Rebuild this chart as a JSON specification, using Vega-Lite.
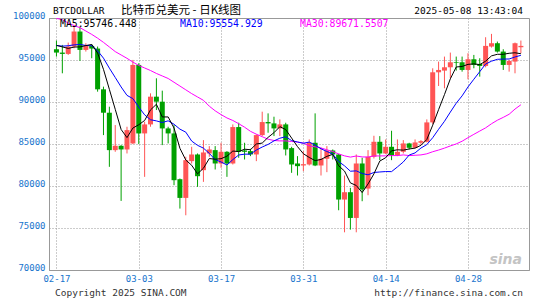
{
  "$schema": "https://vega.github.io/schema/vega-lite/v6.json",
  "width": 480,
  "height": 252,
  "autosize": "none",
  "padding": {"left": 49, "top": 18, "right": 16, "bottom": 30},
  "background": "white",
  "config": {"view": {"stroke": "#999999", "strokeWidth": 1}},
  "layer": [
    {
      "data": {"values": [{"t": "sina"}]},
      "mark": {"type": "text", "align": "right", "baseline": "alphabetic", "font": "DejaVu Sans", "fontSize": 14, "fontWeight": "bold", "fontStyle": "italic", "color": "#c4c4c4", "dx": -2, "dy": -6},
      "encoding": {
        "x": {"datum": 1746621720000, "type": "temporal"},
        "y": {"datum": 70000, "type": "quantitative"},
        "text": {"field": "t", "type": "nominal"}
      }
    },
    {
      "data": {"values": [
        {"d": "2025-02-17", "o": 96281, "h": 97315, "l": 95406, "c": 95883, "ma5": 96740, "ma10": 96730, "ma30": 99950},
        {"d": "2025-02-18", "o": 95883, "h": 96798, "l": 93417, "c": 95724, "ma5": 96560, "ma10": 96650, "ma30": 99800},
        {"d": "2025-02-19", "o": 95724, "h": 97076, "l": 95605, "c": 96599, "ma5": 96380, "ma10": 96700, "ma30": 99400},
        {"d": "2025-02-20", "o": 96599, "h": 98985, "l": 96400, "c": 98389, "ma5": 96540, "ma10": 96800, "ma30": 99100},
        {"d": "2025-02-21", "o": 98389, "h": 98985, "l": 94889, "c": 96201, "ma5": 96560, "ma10": 96850, "ma30": 98850},
        {"d": "2025-02-22", "o": 96201, "h": 96997, "l": 96003, "c": 96679, "ma5": 96720, "ma10": 96730, "ma30": 98450},
        {"d": "2025-02-23", "o": 96679, "h": 96877, "l": 95207, "c": 96360, "ma5": 96850, "ma10": 96700, "ma30": 98050},
        {"d": "2025-02-24", "o": 96360, "h": 96599, "l": 91230, "c": 91508, "ma5": 95830, "ma10": 96100, "ma30": 97600},
        {"d": "2025-02-25", "o": 91508, "h": 91827, "l": 86060, "c": 88724, "ma5": 93890, "ma10": 95220, "ma30": 97100},
        {"d": "2025-02-26", "o": 88724, "h": 89440, "l": 82281, "c": 84270, "ma5": 91510, "ma10": 94030, "ma30": 96550},
        {"d": "2025-02-27", "o": 84270, "h": 87253, "l": 84072, "c": 84787, "ma5": 89130, "ma10": 92920, "ma30": 96000},
        {"d": "2025-02-28", "o": 84787, "h": 84867, "l": 78225, "c": 84350, "ma5": 86730, "ma10": 91790, "ma30": 95600},
        {"d": "2025-03-01", "o": 84350, "h": 87054, "l": 83873, "c": 86656, "ma5": 85760, "ma10": 90790, "ma30": 95200},
        {"d": "2025-03-02", "o": 85066, "h": 95008, "l": 84986, "c": 94412, "ma5": 86900, "ma10": 90400, "ma30": 94750},
        {"d": "2025-03-03", "o": 94412, "h": 94610, "l": 84986, "c": 86259, "ma5": 87290, "ma10": 89400, "ma30": 94350},
        {"d": "2025-03-04", "o": 86259, "h": 87651, "l": 81089, "c": 87332, "ma5": 87800, "ma10": 88470, "ma30": 94050},
        {"d": "2025-03-05", "o": 87332, "h": 91031, "l": 87054, "c": 90634, "ma5": 89060, "ma10": 87890, "ma30": 93750},
        {"d": "2025-03-06", "o": 90634, "h": 92821, "l": 89043, "c": 90037, "ma5": 89730, "ma10": 87750, "ma30": 93400},
        {"d": "2025-03-07", "o": 90037, "h": 91350, "l": 84867, "c": 86855, "ma5": 88220, "ma10": 87560, "ma30": 93100},
        {"d": "2025-03-08", "o": 86856, "h": 87054, "l": 85066, "c": 86259, "ma5": 88220, "ma10": 87760, "ma30": 92800},
        {"d": "2025-03-09", "o": 86259, "h": 87253, "l": 80095, "c": 80691, "ma5": 86900, "ma10": 87350, "ma30": 92350},
        {"d": "2025-03-10", "o": 80810, "h": 80890, "l": 77311, "c": 78583, "ma5": 84490, "ma10": 86770, "ma30": 91900},
        {"d": "2025-03-11", "o": 78583, "h": 83475, "l": 76515, "c": 83077, "ma5": 83090, "ma10": 86410, "ma30": 91450},
        {"d": "2025-03-12", "o": 82958, "h": 84668, "l": 82679, "c": 83753, "ma5": 82470, "ma10": 85350, "ma30": 91000},
        {"d": "2025-03-13", "o": 83753, "h": 83873, "l": 79896, "c": 81168, "ma5": 81450, "ma10": 84840, "ma30": 90600},
        {"d": "2025-03-14", "o": 81884, "h": 85463, "l": 80492, "c": 83992, "ma5": 82110, "ma10": 84510, "ma30": 90200},
        {"d": "2025-03-15", "o": 83873, "h": 84748, "l": 83475, "c": 84350, "ma5": 83270, "ma10": 83880, "ma30": 89500},
        {"d": "2025-03-16", "o": 84272, "h": 84749, "l": 81965, "c": 82681, "ma5": 83190, "ma10": 83140, "ma30": 88950},
        {"d": "2025-03-17", "o": 82681, "h": 85147, "l": 82164, "c": 84073, "ma5": 83250, "ma10": 82860, "ma30": 88500},
        {"d": "2025-03-18", "o": 84073, "h": 84153, "l": 81090, "c": 82681, "ma5": 83550, "ma10": 82500, "ma30": 88100},
        {"d": "2025-03-19", "o": 82681, "h": 87334, "l": 82562, "c": 87016, "ma5": 84160, "ma10": 83140, "ma30": 87800},
        {"d": "2025-03-20", "o": 87016, "h": 87533, "l": 83357, "c": 84073, "ma5": 84100, "ma10": 83690, "ma30": 87420},
        {"d": "2025-03-21", "o": 84232, "h": 85147, "l": 83158, "c": 84073, "ma5": 84380, "ma10": 83790, "ma30": 87000},
        {"d": "2025-03-22", "o": 84153, "h": 84431, "l": 83556, "c": 83755, "ma5": 84320, "ma10": 83790, "ma30": 86510},
        {"d": "2025-03-23", "o": 83755, "h": 86141, "l": 82960, "c": 86061, "ma5": 85000, "ma10": 84280, "ma30": 86170},
        {"d": "2025-03-24", "o": 86061, "h": 88845, "l": 85942, "c": 87613, "ma5": 85110, "ma10": 84640, "ma30": 85870},
        {"d": "2025-03-25", "o": 87613, "h": 88647, "l": 86340, "c": 87454, "ma5": 85790, "ma10": 84950, "ma30": 85570},
        {"d": "2025-03-26", "o": 87454, "h": 88249, "l": 85942, "c": 86857, "ma5": 86350, "ma10": 85370, "ma30": 85420},
        {"d": "2025-03-27", "o": 86857, "h": 87931, "l": 85942, "c": 87334, "ma5": 87060, "ma10": 85690, "ma30": 85370},
        {"d": "2025-03-28", "o": 87334, "h": 87533, "l": 83636, "c": 84351, "ma5": 86720, "ma10": 85860, "ma30": 85370},
        {"d": "2025-03-29", "o": 84510, "h": 84670, "l": 81568, "c": 82562, "ma5": 85710, "ma10": 85410, "ma30": 85300},
        {"d": "2025-03-30", "o": 82681, "h": 83556, "l": 81249, "c": 82363, "ma5": 84690, "ma10": 85240, "ma30": 85230},
        {"d": "2025-03-31", "o": 82442, "h": 84153, "l": 81767, "c": 82601, "ma5": 83840, "ma10": 85090, "ma30": 85100},
        {"d": "2025-04-01", "o": 82562, "h": 85545, "l": 82442, "c": 85147, "ma5": 83400, "ma10": 85230, "ma30": 84790},
        {"d": "2025-04-02", "o": 85147, "h": 88647, "l": 82363, "c": 82442, "ma5": 83020, "ma10": 84870, "ma30": 84660},
        {"d": "2025-04-03", "o": 82442, "h": 84550, "l": 81249, "c": 83238, "ma5": 83160, "ma10": 84430, "ma30": 84530},
        {"d": "2025-04-04", "o": 83238, "h": 84749, "l": 81647, "c": 84232, "ma5": 83530, "ma10": 84110, "ma30": 84310},
        {"d": "2025-04-05", "o": 84232, "h": 84351, "l": 83158, "c": 83755, "ma5": 83760, "ma10": 83800, "ma30": 84100},
        {"d": "2025-04-06", "o": 83755, "h": 83834, "l": 77113, "c": 78386, "ma5": 82410, "ma10": 82910, "ma30": 83820},
        {"d": "2025-04-07", "o": 78386, "h": 81249, "l": 74488, "c": 79261, "ma5": 81780, "ma10": 82400, "ma30": 83590},
        {"d": "2025-04-08", "o": 79261, "h": 79778, "l": 74806, "c": 76197, "ma5": 80370, "ma10": 81760, "ma30": 83440},
        {"d": "2025-04-09", "o": 76197, "h": 83755, "l": 74488, "c": 82681, "ma5": 80060, "ma10": 81800, "ma30": 83570},
        {"d": "2025-04-10", "o": 82681, "h": 83357, "l": 78188, "c": 79579, "ma5": 79220, "ma10": 81490, "ma30": 83460},
        {"d": "2025-04-11", "o": 79697, "h": 84270, "l": 78901, "c": 83475, "ma5": 80240, "ma10": 81330, "ma30": 83450},
        {"d": "2025-04-12", "o": 83475, "h": 85980, "l": 83276, "c": 85264, "ma5": 81440, "ma10": 81610, "ma30": 83580},
        {"d": "2025-04-13", "o": 85264, "h": 85940, "l": 83077, "c": 83873, "ma5": 82970, "ma10": 81670, "ma30": 83580},
        {"d": "2025-04-14", "o": 83873, "h": 85543, "l": 83793, "c": 84668, "ma5": 83370, "ma10": 81720, "ma30": 83590},
        {"d": "2025-04-15", "o": 84668, "h": 86577, "l": 83077, "c": 83674, "ma5": 84190, "ma10": 81710, "ma30": 83620},
        {"d": "2025-04-16", "o": 83674, "h": 85543, "l": 83555, "c": 84072, "ma5": 84310, "ma10": 82270, "ma30": 83620},
        {"d": "2025-04-17", "o": 84072, "h": 85463, "l": 83873, "c": 85066, "ma5": 84270, "ma10": 82860, "ma30": 83700},
        {"d": "2025-04-18", "o": 85066, "h": 85145, "l": 84350, "c": 84549, "ma5": 84410, "ma10": 83690, "ma30": 83620},
        {"d": "2025-04-19", "o": 84549, "h": 85543, "l": 84469, "c": 85185, "ma5": 84510, "ma10": 83940, "ma30": 83660},
        {"d": "2025-04-20", "o": 85145, "h": 85463, "l": 84867, "c": 85344, "ma5": 84840, "ma10": 84520, "ma30": 83700},
        {"d": "2025-04-21", "o": 85264, "h": 87929, "l": 85185, "c": 87571, "ma5": 85540, "ma10": 84930, "ma30": 83830},
        {"d": "2025-04-22", "o": 87571, "h": 94014, "l": 87372, "c": 93537, "ma5": 87240, "ma10": 85750, "ma30": 84080},
        {"d": "2025-04-23", "o": 93537, "h": 94809, "l": 91906, "c": 93815, "ma5": 89090, "ma10": 86750, "ma30": 84280},
        {"d": "2025-04-24", "o": 93736, "h": 95406, "l": 91628, "c": 94133, "ma5": 90880, "ma10": 87700, "ma30": 84510},
        {"d": "2025-04-25", "o": 94133, "h": 95883, "l": 92821, "c": 94730, "ma5": 92760, "ma10": 88800, "ma30": 84770},
        {"d": "2025-04-26", "o": 94730, "h": 95406, "l": 93736, "c": 94650, "ma5": 94170, "ma10": 89860, "ma30": 85010},
        {"d": "2025-04-27", "o": 94730, "h": 95406, "l": 93616, "c": 93815, "ma5": 94230, "ma10": 90730, "ma30": 85330},
        {"d": "2025-04-28", "o": 93815, "h": 95804, "l": 92702, "c": 95088, "ma5": 94480, "ma10": 91790, "ma30": 85750},
        {"d": "2025-04-29", "o": 95088, "h": 95605, "l": 94014, "c": 94412, "ma5": 94540, "ma10": 92710, "ma30": 86150},
        {"d": "2025-04-30", "o": 94531, "h": 95207, "l": 93020, "c": 94293, "ma5": 94450, "ma10": 93610, "ma30": 86540},
        {"d": "2025-05-01", "o": 94293, "h": 97712, "l": 94133, "c": 96679, "ma5": 94860, "ma10": 94520, "ma30": 86920},
        {"d": "2025-05-02", "o": 96599, "h": 98110, "l": 96480, "c": 96997, "ma5": 95490, "ma10": 94860, "ma30": 87410},
        {"d": "2025-05-03", "o": 96997, "h": 97196, "l": 95883, "c": 96003, "ma5": 95680, "ma10": 95080, "ma30": 87830},
        {"d": "2025-05-04", "o": 96003, "h": 96281, "l": 93815, "c": 94412, "ma5": 95680, "ma10": 95110, "ma30": 88170},
        {"d": "2025-05-05", "o": 94412, "h": 95008, "l": 93616, "c": 94889, "ma5": 95800, "ma10": 95120, "ma30": 88540},
        {"d": "2025-05-06", "o": 94809, "h": 97076, "l": 93417, "c": 96997, "ma5": 95860, "ma10": 95360, "ma30": 89160},
        {"d": "2025-05-07", "o": 96520, "h": 97315, "l": 95804, "c": 96679, "ma5": 95746, "ma10": 95555, "ma30": 89672}
      ]},
      "encoding": {
        "x": {
          "field": "d",
          "type": "temporal",
          "title": null,
          "scale": {"type": "utc", "domain": [1739714400000, 1746621720000], "nice": false},
          "axis": {
            "values": [
              {"year": 2025, "month": 2, "date": 17, "utc": true},
              {"year": 2025, "month": 3, "date": 3, "utc": true},
              {"year": 2025, "month": 3, "date": 17, "utc": true},
              {"year": 2025, "month": 3, "date": 31, "utc": true},
              {"year": 2025, "month": 4, "date": 14, "utc": true},
              {"year": 2025, "month": 4, "date": 28, "utc": true}
            ],
            "format": "%m-%d",
            "labelColor": "#1874cd",
            "labelFont": "DejaVu Sans Mono",
            "labelFontSize": 9,
            "ticks": false,
            "labelPadding": 4,
            "labelFlush": false,
            "labelOverlap": false,
            "grid": true,
            "gridColor": "#999999",
            "gridDash": [1, 2],
            "domainColor": "#999999"
          }
        }
      },
      "layer": [
        {
          "mark": {"type": "rule", "strokeWidth": 1},
          "encoding": {
            "y": {
              "field": "l",
              "type": "quantitative",
              "title": null,
              "scale": {"domain": [70000, 100000], "nice": false, "zero": false},
              "axis": {
                "values": [70000, 75000, 80000, 85000, 90000, 95000, 100000],
                "format": "d",
                "labelColor": "#1874cd",
                "labelFont": "DejaVu Sans Mono",
                "labelFontSize": 9,
                "labelBaseline": "alphabetic",
                "ticks": false,
                "labelPadding": 4,
                "labelFlush": false,
                "labelOverlap": false,
                "grid": true,
                "gridColor": "#999999",
                "gridDash": [1, 2],
                "domainColor": "#999999"
              }
            },
            "y2": {"field": "h"},
            "color": {"condition": {"test": "datum.c >= datum.o", "value": "#ff5555"}, "value": "#00a000"}
          }
        },
        {
          "mark": {"type": "bar", "size": 5},
          "encoding": {
            "y": {"field": "o", "type": "quantitative", "title": null},
            "y2": {"field": "c"},
            "color": {"condition": {"test": "datum.c >= datum.o", "value": "#ff5555"}, "value": "#00a000"}
          }
        },
        {
          "mark": {"type": "line", "strokeWidth": 1, "color": "#ff00ff", "clip": true},
          "encoding": {"y": {"field": "ma30", "type": "quantitative", "title": null}}
        },
        {
          "mark": {"type": "line", "strokeWidth": 1, "color": "#0000ff", "clip": true},
          "encoding": {"y": {"field": "ma10", "type": "quantitative", "title": null}}
        },
        {
          "mark": {"type": "line", "strokeWidth": 1, "color": "#000000", "clip": true},
          "encoding": {"y": {"field": "ma5", "type": "quantitative", "title": null}}
        }
      ]
    },
    {
      "data": {"values": [{"t": "BTCDOLLAR"}]},
      "mark": {"type": "text", "align": "left", "baseline": "middle", "font": "DejaVu Sans Mono", "fontSize": 9.5, "color": "#000000", "dx": -1, "dy": -7},
      "encoding": {
        "x": {"datum": 1739714400000, "type": "temporal"},
        "y": {"datum": 100000, "type": "quantitative"},
        "text": {"field": "t", "type": "nominal"}
      }
    },
    {
      "data": {"values": [{"t": "比特币兑美元 - 日K线图"}]},
      "mark": {"type": "text", "align": "left", "baseline": "middle", "font": "Noto Sans CJK SC", "fontSize": 11.5, "color": "#000000", "dx": 67, "dy": -7},
      "encoding": {
        "x": {"datum": 1739714400000, "type": "temporal"},
        "y": {"datum": 100000, "type": "quantitative"},
        "text": {"field": "t", "type": "nominal"}
      }
    },
    {
      "data": {"values": [{"t": "2025-05-08 13:43:04"}]},
      "mark": {"type": "text", "align": "right", "baseline": "middle", "font": "DejaVu Sans Mono", "fontSize": 9.5, "color": "#000000", "dx": -1, "dy": -7},
      "encoding": {
        "x": {"datum": 1746621720000, "type": "temporal"},
        "y": {"datum": 100000, "type": "quantitative"},
        "text": {"field": "t", "type": "nominal"}
      }
    },
    {
      "data": {"values": [{"t": "MA5:95746.448"}]},
      "mark": {"type": "text", "align": "left", "baseline": "middle", "font": "DejaVu Sans Mono", "fontSize": 9.8, "color": "#000000", "dx": 6, "dy": 5.5},
      "encoding": {
        "x": {"datum": 1739714400000, "type": "temporal"},
        "y": {"datum": 100000, "type": "quantitative"},
        "text": {"field": "t", "type": "nominal"}
      }
    },
    {
      "data": {"values": [{"t": "MA10:95554.929"}]},
      "mark": {"type": "text", "align": "left", "baseline": "middle", "font": "DejaVu Sans Mono", "fontSize": 9.8, "color": "#0000ff", "dx": 126, "dy": 5.5},
      "encoding": {
        "x": {"datum": 1739714400000, "type": "temporal"},
        "y": {"datum": 100000, "type": "quantitative"},
        "text": {"field": "t", "type": "nominal"}
      }
    },
    {
      "data": {"values": [{"t": "MA30:89671.5507"}]},
      "mark": {"type": "text", "align": "left", "baseline": "middle", "font": "DejaVu Sans Mono", "fontSize": 9.8, "color": "#ff00ff", "dx": 246, "dy": 5.5},
      "encoding": {
        "x": {"datum": 1739714400000, "type": "temporal"},
        "y": {"datum": 100000, "type": "quantitative"},
        "text": {"field": "t", "type": "nominal"}
      }
    },
    {
      "data": {"values": [{"t": "Copyright 2025 SINA.COM"}]},
      "mark": {"type": "text", "align": "left", "baseline": "middle", "font": "DejaVu Sans Mono", "fontSize": 9.5, "color": "#333333", "dx": 1, "dy": 23},
      "encoding": {
        "x": {"datum": 1739714400000, "type": "temporal"},
        "y": {"datum": 70000, "type": "quantitative"},
        "text": {"field": "t", "type": "nominal"}
      }
    },
    {
      "data": {"values": [{"t": "http://finance.sina.com.cn"}]},
      "mark": {"type": "text", "align": "right", "baseline": "middle", "font": "DejaVu Sans Mono", "fontSize": 9.5, "color": "#333333", "dx": -1, "dy": 23},
      "encoding": {
        "x": {"datum": 1746621720000, "type": "temporal"},
        "y": {"datum": 70000, "type": "quantitative"},
        "text": {"field": "t", "type": "nominal"}
      }
    }
  ]
}
